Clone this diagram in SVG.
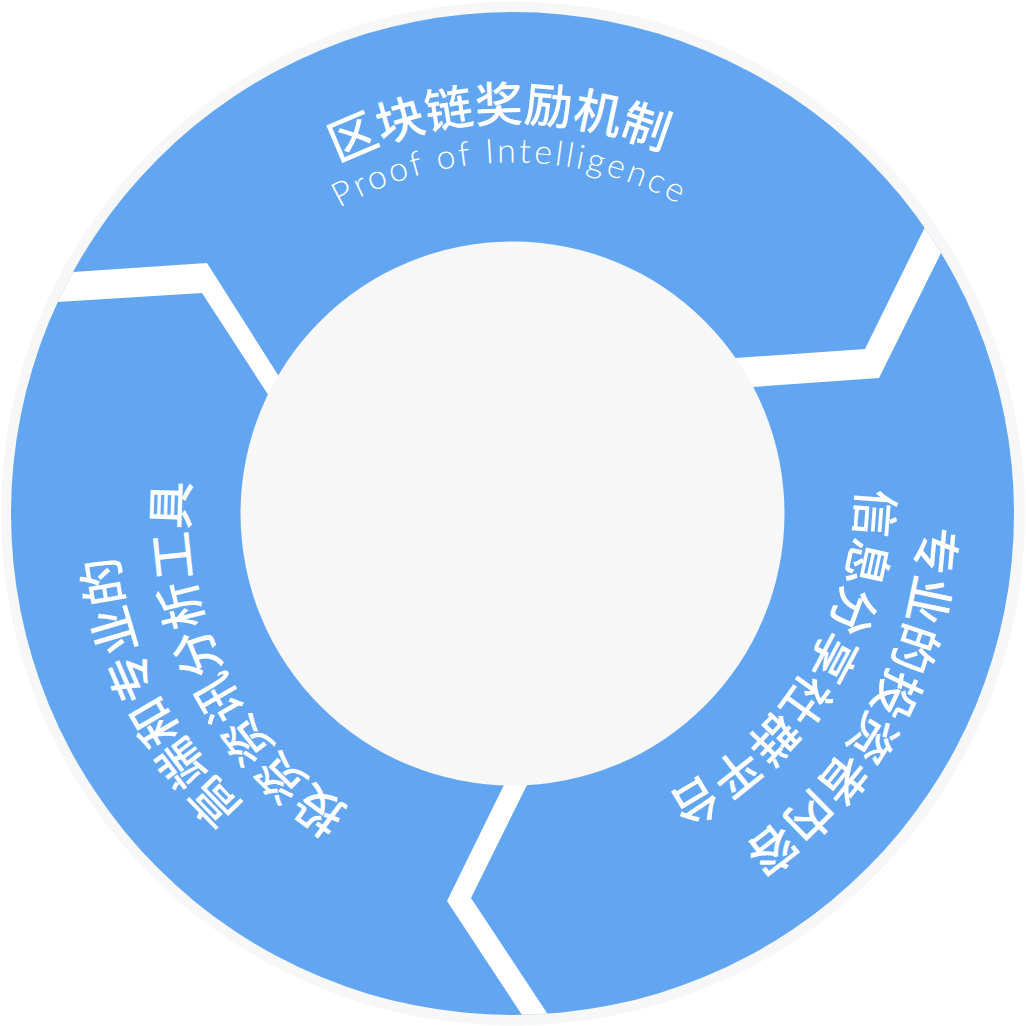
<svg xmlns="http://www.w3.org/2000/svg" xmlns:xlink="http://www.w3.org/1999/xlink" width="1026" height="1026" viewBox="0 0 1026 1026">
  <style>
    .cjk { font-family: "Noto Sans CJK SC", "Noto Sans", sans-serif; font-size: 48px; font-weight: 500; fill: #ffffff; }
    .latin { font-family: "Lato", "Open Sans", "Liberation Sans", sans-serif; font-size: 34px; font-weight: 300; fill: #ffffff; letter-spacing: 3px; }
    .gap { fill: #ffffff; }
  </style>
  <defs>
    <clipPath id="ringClip">
      <circle cx="512.5" cy="513.5" r="501.5"/>
    </clipPath>
    <path id="pTitle" d="M 120.5 513.5 A 392 392 0 0 1 904.5 513.5"/>
    <path id="pProof" d="M 161.5 513.5 A 351 351 0 0 1 863.5 513.5"/>
    <path id="pRightOuter" d="M 717 159.3 A 409 409 0 0 1 308 867.7"/>
    <path id="pRightInner" d="M 681.85 178.85 A 352.7 352.7 0 0 1 329.15 789.75"/>
    <path id="pLeftOuter" d="M 712.5 859.9 A 400 400 0 0 1 312.5 167.1"/>
    <path id="pLeftInner" d="M 706.8 817.3 A 345.8 345.8 0 0 1 361 218.3"/>
  </defs>
  <rect x="0" y="0" width="1026" height="1026" fill="#ffffff"/>
  <g id="outer-border">
    <circle cx="513" cy="513.5" r="512" fill="#f7f7f7"/>
  </g>
  <g id="ring">
    <circle cx="512.5" cy="513.5" r="501.5" fill="#62a6f2"/>
  </g>
  <g id="connectors" clip-path="url(#ringClip)">
    <polygon class="gap" points="937,202.6 925,227 865,349 735,358 696,360.7 715,389.7 753,387 879,378 941,253 953.4,228"/>
    <polygon class="gap" points="46,274 73,272 207,263 278,375 299,408.6 286.5,423 267,393 202,293 57,302 28,304"/>
    <polygon class="gap" points="517,758.5 503,787 447,901 522,1015 538.5,1040 565,1040 547,1013 471,898 526,787 540,758.5"/>
  </g>
  <g id="center">
    <circle cx="512.5" cy="513.5" r="272" fill="#f7f7f7"/>
  </g>
  <g id="node-top">
    <text class="cjk" text-anchor="middle"><textPath xlink:href="#pTitle" href="#pTitle" startOffset="602.1">区块链奖励机制</textPath></text>
    <text class="latin" text-anchor="middle"><textPath xlink:href="#pProof" href="#pProof" startOffset="548.3">Proof of Intelligence</textPath></text>
  </g>
  <g id="node-right">
    <text class="cjk" text-anchor="middle"><textPath xlink:href="#pRightOuter" href="#pRightOuter" startOffset="631">专业的投资者内容</textPath></text>
    <text class="cjk" text-anchor="middle"><textPath xlink:href="#pRightInner" href="#pRightInner" startOffset="564.8">信息分享社群平台</textPath></text>
  </g>
  <g id="node-left">
    <text class="cjk" text-anchor="middle"><textPath xlink:href="#pLeftOuter" href="#pLeftOuter" startOffset="647.9">高端和专业的</textPath></text>
    <text class="cjk" text-anchor="middle"><textPath xlink:href="#pLeftInner" href="#pLeftInner" startOffset="567.9">投资资讯分析工具</textPath></text>
  </g>
</svg>
